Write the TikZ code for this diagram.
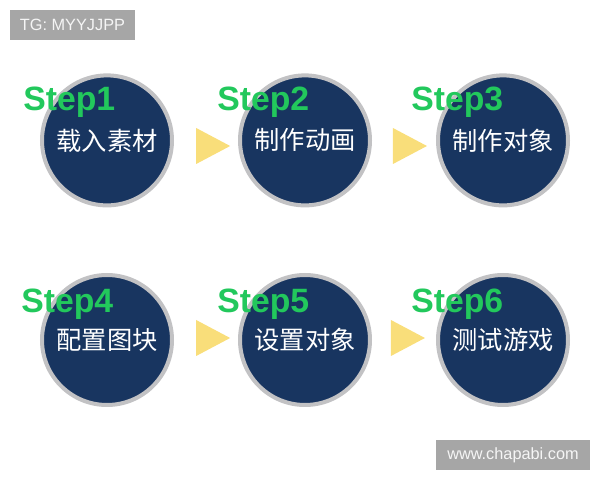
\documentclass[tikz,border=0pt]{standalone}
\usepackage{fontspec}
\setmainfont{Liberation Sans}
\newfontfamily\cjkfont{Noto Sans CJK SC}
\usetikzlibrary{shapes.geometric}
\definecolor{navycolor}{RGB}{24, 53, 96}
\definecolor{ringcolor}{RGB}{194, 194, 196}
\definecolor{greencolor}{RGB}{34, 200, 92}
\definecolor{yellowcolor}{RGB}{249, 222, 122}
\definecolor{tagcolor}{RGB}{166, 166, 166}
\tikzstyle{stepcircle} = [circle, minimum size=3.25cm, inner sep=0pt,
                          draw=ringcolor, fill=navycolor, line width=0.1cm,
                          text=white, font=\cjkfont\fontsize{18}{18}\selectfont]
\tikzstyle{steplabel} = [anchor=base west, inner sep=0pt, text=greencolor,
                         font=\bfseries\fontsize{24}{24}\selectfont]
\tikzstyle{arrowtri} = [isosceles triangle, isosceles triangle stretches,
                        minimum width=0.9cm, minimum height=0.85cm,
                        inner sep=0pt, fill=yellowcolor]
\tikzstyle{tagbox} = [rectangle, minimum height=0.75cm, fill=tagcolor,
                      text=white!96!black, font=\fontsize{11.6}{12}\selectfont]

\begin{document}
\begin{tikzpicture}[node distance=4.95cm]
        \useasboundingbox (0,0) rectangle (15,12);

        % corner tags
        \node (tag) [tagbox, minimum width=3.125cm] at (1.8125,11.375) {TG: MYYJJPP};
        \node (site) [tagbox, minimum width=3.85cm] at (12.825,0.625) {www.chapabi.com};

        % the six steps
        \node (c1) [stepcircle] at (2.675,8.49) {载入素材};
        \node (c2) [stepcircle, right of = c1] {制作动画};
        \node (c3) [stepcircle, right of = c2] {制作对象};
        \node (c4) [stepcircle, below of = c1, yshift=-0.04cm] {配置图块};
        \node (c5) [stepcircle, right of = c4] {设置对象};
        \node (c6) [stepcircle, right of = c5] {测试游戏};

        \node (s1) [steplabel, xshift=-2.1cm, yshift=0.74cm] at (c1) {Step1};
        \node (s2) [steplabel, xshift=-2.2cm, yshift=0.74cm] at (c2) {Step2};
        \node (s3) [steplabel, xshift=-2.3cm, yshift=0.74cm] at (c3) {Step3};
        \node (s4) [steplabel, xshift=-2.15cm, yshift=0.68cm] at (c4) {Step4};
        \node (s5) [steplabel, xshift=-2.2cm, yshift=0.68cm] at (c5) {Step5};
        \node (s6) [steplabel, xshift=-2.3cm, yshift=0.68cm] at (c6) {Step6};

        % yellow pointers
        \node (t1) [arrowtri, xshift=2.5cm, yshift=-0.14cm] at (c1) {};
        \node (t2) [arrowtri, xshift=2.47cm, yshift=-0.14cm] at (c2) {};
        \node (t4) [arrowtri, xshift=2.5cm, yshift=0.05cm] at (c4) {};
        \node (t5) [arrowtri, xshift=2.42cm, yshift=0.05cm] at (c5) {};

    \end{tikzpicture}
\end{document}
